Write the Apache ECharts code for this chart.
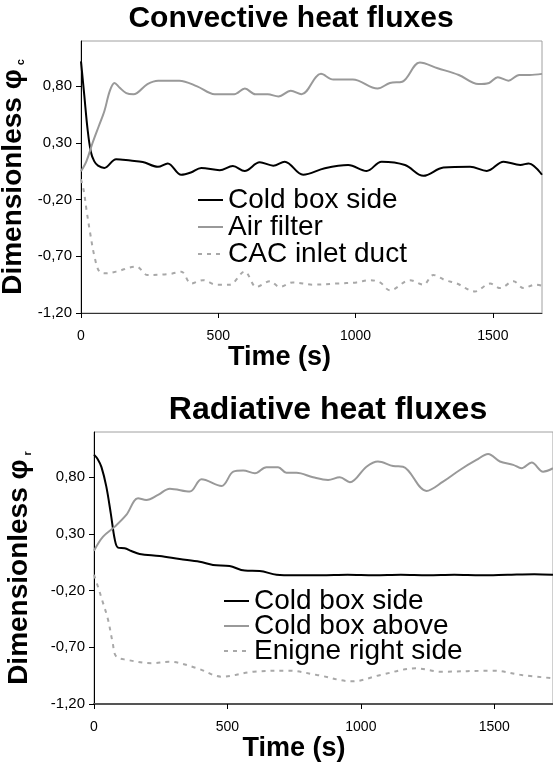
<!DOCTYPE html>
<html>
<head>
<meta charset="utf-8">
<script src="https://cdn.jsdelivr.net/npm/echarts@6/dist/echarts.min.js"></script>
<style>
  html, body { margin: 0; padding: 0; background: #fff; }
  #main { width: 553px; height: 767px; }
</style>
</head>
<body>
<div id="main"></div>
<script>
// tick labels
var yTicks = [-1.2, -0.7, -0.2, 0.3, 0.8];
var xTicks = [0, 500, 1000, 1500];

// convective heat fluxes  [time (s), phi_c]
var convColdBoxSide = [[0, 1.02], [12, 0.72], [24, 0.42], [36, 0.22], [48, 0.14], [62, 0.1], [85, 0.08],
  [128, 0.157], [180, 0.145], [225, 0.133], [280, 0.09], [316, 0.12], [365, 0.02], [400, 0.04],
  [438, 0.08], [505, 0.06], [553, 0.097], [596, 0.053], [651, 0.13], [700, 0.1], [742, 0.135],
  [809, 0.02], [888, 0.077], [973, 0.106], [1040, 0.053], [1095, 0.135], [1180, 0.106],
  [1247, 0.01], [1320, 0.083], [1417, 0.091], [1478, 0.053], [1539, 0.135], [1600, 0.106],
  [1630, 0.12], [1679, 0.02]];
var convAirFilter = [[0, 0.05], [20, 0.14], [42, 0.3], [65, 0.45], [85, 0.58], [105, 0.76], [122, 0.83],
  [140, 0.79], [165, 0.74], [191, 0.73], [242, 0.82], [281, 0.85], [358, 0.85], [423, 0.8],
  [487, 0.73], [558, 0.73], [597, 0.78], [635, 0.73], [680, 0.73], [719, 0.71], [764, 0.76],
  [803, 0.73], [874, 0.91], [919, 0.86], [990, 0.86], [1080, 0.78], [1125, 0.83], [1170, 0.84],
  [1234, 1.01], [1299, 0.96], [1376, 0.9], [1447, 0.82], [1486, 0.83], [1518, 0.88], [1557, 0.85],
  [1596, 0.9], [1634, 0.9], [1679, 0.91]];
var convCacInlet = [[0, -0.02], [10, -0.12], [20, -0.29], [33, -0.49], [49, -0.7], [67, -0.835],
  [91, -0.85], [128, -0.835], [201, -0.79], [243, -0.865], [322, -0.856], [365, -0.835],
  [401, -0.94], [444, -0.91], [493, -0.95], [541, -0.95], [596, -0.835], [639, -0.97], [688, -0.92],
  [724, -0.97], [772, -0.93], [845, -0.95], [931, -0.94], [1004, -0.93], [1052, -0.91],
  [1089, -0.93], [1125, -1.0], [1198, -0.91], [1247, -0.95], [1283, -0.865], [1326, -0.91],
  [1369, -0.94], [1435, -1.01], [1490, -0.94], [1527, -0.98], [1575, -0.92], [1612, -0.98],
  [1654, -0.95], [1679, -0.96]];

// radiative heat fluxes  [time (s), phi_r]
var radColdBoxSide = [[0, 1.0], [14, 0.96], [28, 0.89], [46, 0.72], [63, 0.48], [78, 0.25], [90, 0.18],
  [115, 0.174], [140, 0.15], [171, 0.124], [246, 0.106], [321, 0.08], [396, 0.056], [446, 0.027],
  [508, 0.018], [565, -0.023], [621, -0.026], [684, -0.06], [750, -0.065], [850, -0.065],
  [950, -0.06], [1050, -0.065], [1150, -0.06], [1250, -0.065], [1350, -0.06], [1450, -0.065],
  [1550, -0.06], [1650, -0.055], [1720, -0.06]];
var radColdBoxAbove = [[0, 0.153], [34, 0.277], [78, 0.365], [121, 0.468], [165, 0.615], [196, 0.6],
  [240, 0.645], [284, 0.7], [359, 0.674], [403, 0.783], [478, 0.724], [522, 0.85], [559, 0.86],
  [603, 0.836], [646, 0.89], [690, 0.89], [721, 0.84], [759, 0.84], [821, 0.8], [877, 0.777],
  [921, 0.8], [959, 0.757], [1021, 0.894], [1064, 0.94], [1121, 0.9], [1158, 0.894], [1246, 0.68],
  [1308, 0.762], [1371, 0.865], [1433, 0.953], [1477, 1.006], [1521, 0.94], [1571, 0.91],
  [1602, 0.88], [1640, 0.93], [1683, 0.85], [1720, 0.88]];
var radEngineRight = [[0, -0.06], [17, -0.18], [30, -0.28], [52, -0.45], [70, -0.66], [83, -0.78],
  [123, -0.81], [215, -0.84], [281, -0.827], [387, -0.885], [479, -0.959], [598, -0.915],
  [730, -0.906], [836, -0.944], [968, -1.0], [1074, -0.944], [1206, -0.885], [1299, -0.915],
  [1497, -0.906], [1603, -0.944], [1720, -0.973]];

var FONT = '"Liberation Sans", Arial, sans-serif';
var chartDom = document.getElementById('main');
var myChart = echarts.init(chartDom);

function fmtY(v) {
  return v.toFixed(2).replace('.', ',');
}

function makeX(gridIndex, max, lineColor, lineWidth, shiftPad) {
  return {
    type: 'value',
    gridIndex: gridIndex,
    min: 0,
    max: max,
    name: 'Time (s)',
    nameLocation: 'middle',
    nameGap: 30,
    // title sits left of the plot centre in the original
    nameTextStyle: { fontSize: 27, fontWeight: 'bold', color: '#000', fontFamily: FONT, padding: [0, shiftPad, 0, 0] },
    splitLine: { show: false },
    axisLine: { show: true, onZero: false, lineStyle: { color: lineColor, width: lineWidth } },
    axisTick: { show: true, length: 5, customValues: xTicks, lineStyle: { color: '#000' } },
    axisLabel: { customValues: xTicks, formatter: function (v) { return String(v); }, fontSize: 14, color: '#000', margin: 16, fontFamily: FONT }
  };
}

function makeY(gridIndex, sub, gap) {
  return {
    type: 'value',
    gridIndex: gridIndex,
    min: -1.2,
    max: 1.2,
    name: '{a|Dimensionless φ}{b|' + sub + '}',
    nameLocation: 'middle',
    nameRotate: 90,
    nameGap: gap,
    nameTextStyle: {
      rich: {
        a: { fontSize: 28, fontWeight: 'bold', color: '#000', fontFamily: FONT },
        b: { fontSize: 11, fontWeight: 'bold', color: '#000', fontFamily: FONT, verticalAlign: 'bottom', padding: [0, 0, 0, 4] }
      }
    },
    splitLine: { show: false },
    axisLine: { show: true, onZero: false, lineStyle: { color: '#000', width: 1 } },
    axisTick: { show: true, length: 5, customValues: yTicks, lineStyle: { color: '#000' } },
    axisLabel: { customValues: yTicks, formatter: fmtY, fontSize: 15, color: '#000', margin: 9, fontFamily: FONT }
  };
}

function line(name, data, idx, color, dashed) {
  return {
    name: name,
    type: 'line',
    xAxisIndex: idx,
    yAxisIndex: idx,
    data: data,
    symbol: 'none',
    smooth: 0.35,
    lineStyle: { color: color, width: 2, type: dashed ? [4, 5] : 'solid' },
    itemStyle: { color: color },
    animation: false
  };
}

var option = {
  animation: false,
  textStyle: { fontFamily: FONT },
  graphic: [
    { type: 'text', x: 291, y: 19, style: { text: 'Convective heat fluxes', font: 'bold 30px ' + FONT, fill: '#000', textAlign: 'center', textVerticalAlign: 'middle' } },
    { type: 'text', x: 328, y: 410, style: { text: 'Radiative heat fluxes', font: 'bold 32px ' + FONT, fill: '#000', textAlign: 'center', textVerticalAlign: 'middle' } }
  ],
  grid: [
    { left: 81, top: 41, width: 461, height: 272, outerBoundsMode: 'none', containLabel: false, show: true, borderColor: '#a0a0a0', borderWidth: 1 },
    { left: 94, top: 432, width: 459, height: 272, outerBoundsMode: 'none', containLabel: false, show: true, borderColor: '#a0a0a0', borderWidth: 1 }
  ],
  legend: [
    {
      orient: 'vertical', left: 197, top: 186, padding: 0, itemGap: -1, itemWidth: 25, itemHeight: 14,
      data: ['Cold box side', 'Air filter', 'CAC inlet duct'],
      itemStyle: { opacity: 0 },
      textStyle: { fontSize: 28, lineHeight: 27, color: '#000', fontFamily: FONT },
      selectedMode: false
    },
    {
      orient: 'vertical', left: 223, top: 587, padding: 0, itemGap: -3, itemWidth: 25, itemHeight: 14,
      data: ['Cold box side', 'Cold box above', 'Enigne right side'],
      itemStyle: { opacity: 0 },
      textStyle: { fontSize: 28, lineHeight: 25.5, color: '#000', fontFamily: FONT },
      selectedMode: false
    }
  ],
  xAxis: [makeX(0, 1679, '#333', 1, 64), makeX(1, 1720, '#555', 2, 59)],
  yAxis: [makeY(0, 'c', 48), makeY(1, 'r', 61)],
  series: [
    line('Cold box side', convColdBoxSide, 0, '#000000', false),
    line('Air filter', convAirFilter, 0, '#999999', false),
    line('CAC inlet duct', convCacInlet, 0, '#a8a8a8', true),
    line('Cold box side', radColdBoxSide, 1, '#000000', false),
    line('Cold box above', radColdBoxAbove, 1, '#999999', false),
    line('Enigne right side', radEngineRight, 1, '#a8a8a8', true)
  ]
};

myChart.setOption(option);
window.addEventListener('resize', function () { myChart.resize(); });
</script>
</body>
</html>
